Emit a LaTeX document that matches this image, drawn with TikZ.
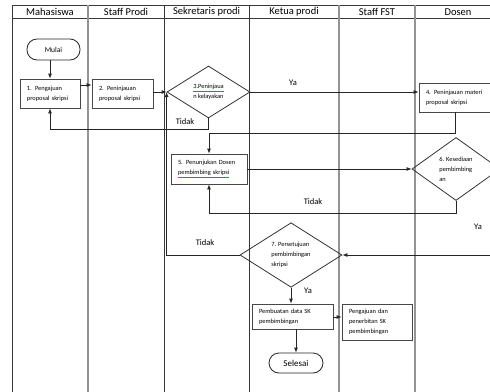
\documentclass[tikz,border=0pt]{standalone}
\usepackage{fontspec}
\setmainfont{Carlito}
\usetikzlibrary{shapes.geometric,arrows.meta}

% spelling-mark style underline: thin green rule under black text
\newcommand{\spellmark}[1]{{\color{green!45!black!80}\underline{\textcolor{black}{#1}}}}

\begin{document}
\begin{tikzpicture}[x=1pt,y=-1pt,
  lane/.style={draw=black!78,line width=0.9pt},
  lanelight/.style={draw=black!42,line width=1.1pt},
  head/.style={font=\fontsize{10.5}{12}\selectfont,anchor=center},
  box/.style={draw=black!72,line width=0.8pt,rectangle,inner xsep=7pt,inner ysep=0pt,
    align=left,font=\fontsize{6.4}{10}\selectfont},
  term/.style={draw=black!85,line width=0.8pt,rectangle,rounded corners=10pt,inner sep=0pt},
  decision/.style={draw=black!80,line width=0.8pt,diamond,inner sep=0pt,align=left,
    font=\fontsize{6.4}{10}\selectfont},
  arr/.style={draw=black!85,line width=0.8pt,-{Latex[length=5pt,width=4pt]}},
  lbl/.style={font=\fontsize{8.5}{10}\selectfont,inner sep=0pt}
]
\useasboundingbox (0,0) rectangle (490,391);
\clip (0,0) rectangle (490,391);

% swimlane frame
\draw[lane] (12,5) -- (505,5);
\draw[lane] (12,18) -- (505,18);
\draw[lane] (12,5) -- (12,395);
\draw[lanelight] (88,5) -- (88,395);
\draw[lane] (164,5) -- (164,395);
\draw[lane] (249,5) -- (249,395);
\draw[lanelight] (339,5) -- (339,395);
\draw[lanelight] (415,5) -- (415,395);
\draw[lane] (501,5) -- (501,395);

\node[head] (h1) at (50,12) {Mahasiswa};
\node[head] (h2) at (126,12) {Staff Prodi};
\node[head] (h3) at (206.5,12) {Sekretaris prodi};
\node[head] (h4) at (294,12) {Ketua prodi};
\node[head] (h5) at (377,12) {Staff FST};
\node[head] (h6) at (458,12) {Dosen};

% process steps
\node[term,minimum width=53pt,minimum height=21pt,font=\fontsize{7.5}{9}\selectfont]
  (mulai) at (53.5,49.5) {Mulai};
\node[box,minimum width=60pt,minimum height=29pt,text width=46pt]
  (b1) at (50,93.5) {1. Pengajuan\\proposal skripsi};
\node[box,minimum width=61pt,minimum height=29pt,text width=47pt]
  (b2) at (122.5,93.5) {2. Peninjauan\\proposal skripsi};
\node[decision,minimum width=83pt,minimum height=52pt]
  (d3) at (208.5,92) {\spellmark{3.Peninjaua}\\n kelayakan};
\node[box,minimum width=86pt,minimum height=29pt,text width=72pt]
  (b4) at (462,97.5) {4. Peninjauan materi\\proposal skripsi};
\node[box,minimum width=76pt,minimum height=30pt,text width=62pt]
  (b5) at (209,169) {5. Penunjukan Dosen\\\spellmark{pembimbing skripsi}};
\node[decision,minimum width=88pt,minimum height=63pt]
  (d6) at (456,169) {6. Kesediaan\\pembimbing\\an};
\node[decision,minimum width=102pt,minimum height=64pt]
  (d7) at (291,255) {7. Persetujuan\\pembimbingan\\skripsi};
\node[box,minimum width=81pt,minimum height=25pt,text width=67pt]
  (b6) at (292.5,316.5) {Pembuatan data SK\\pembimbingan};
\node[box,minimum width=70pt,minimum height=36pt,text width=56pt]
  (b7) at (377,322) {Pengajuan dan\\penerbitan SK\\pembimbingan};
\node[term,minimum width=54pt,minimum height=20pt,font=\fontsize{9}{10}\selectfont]
  (selesai) at (296,363) {Selesai};

% flow
\draw[arr] (b1.north |- mulai.south) -- (b1.north);
\draw[arr] (b1.east |- 0,85) -- (b2.west |- 0,85);
\draw[arr] (b2.east |- d3.west) -- (d3.west);
\draw[arr] (d3.east) -- (b4.west |- d3.east);
\node[lbl] (ya1) at (293,83) {Ya};
\draw[arr] (d3.south) -- ++(0,11) -| (b1.south);
\node[lbl] (td1) at (185,122) {Tidak};
\draw[arr] ([xshift=-7pt]b4.south) -- ++(0,21) -| (b5.north);
\draw[arr] (b5.east) -- (d6.west);
\draw[arr] (d6.south) -- ++(0,12.5) -| (b5.south);
\node[lbl] (td2) at (313,202) {Tidak};
\draw[arr] (d6.east) -- ++(10,0) |- (d7.east);
\node[lbl] (ya2) at (478,227) {Ya};
\draw[arr] (d7.west) -| (d3.west);
\node[lbl] (td3) at (205,243) {Tidak};
\draw[arr] (d7.south) -- (b6.north -| d7.south);
\node[lbl] (ya3) at (308,291) {Ya};
\draw[arr] (b6.east |- 0,317) -- (b7.west |- 0,317);
\draw[arr] (selesai.north |- b6.south) -- (selesai.north);
\end{tikzpicture}
\end{document}
